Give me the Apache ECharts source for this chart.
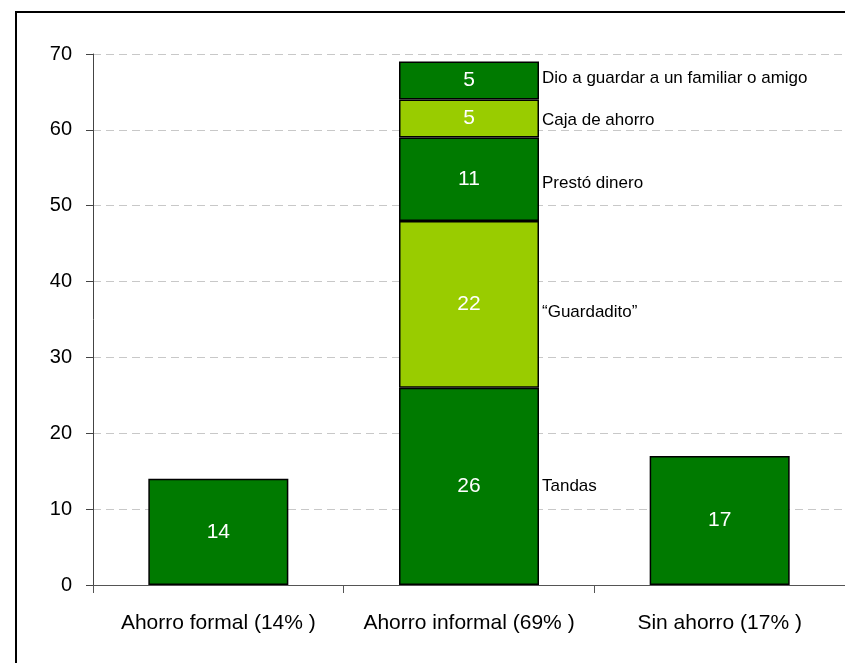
<!DOCTYPE html>
<html>
<head>
<meta charset="utf-8">
<script src="https://cdn.jsdelivr.net/npm/echarts@6/dist/echarts.min.js"></script>
<style>
  html, body { margin: 0; padding: 0; background: #fff; }
  #chart { width: 845px; height: 663px; }
</style>
</head>
<body>
<div id="chart"></div>
<script>
// Categories and tick values
const categories = ['Ahorro formal (14% )', 'Ahorro informal (69% )', 'Sin ahorro (17% )'];
const yTicks = { min: 0, max: 70, interval: 10 };

// Stacked segments, bottom to top
const segmentNames = ['Tandas', '\u201cGuardadito\u201d', 'Prestó dinero', 'Caja de ahorro', 'Dio a guardar a un familiar o amigo'];
const tandas      = [14, 26, 17];
const guardadito  = [null, 22, null];
const presto      = [null, 11, null];
const caja        = [null, 5, null];
const dioGuardar  = [null, 5, null];
const segmentData = [tandas, guardadito, presto, caja, dioGuardar];

const DARK = '#007A00';
const LIGHT = '#99CC00';
const segmentColors = [DARK, LIGHT, DARK, LIGHT, DARK];
// small vertical nudges for the segment names
const nameOffsets = [0, 8, 4, 2, -2];
const FONT = "'Liberation Sans', Arial, sans-serif";

const series = [];
// Visible bars with value labels inside
segmentData.forEach((data, i) => {
  series.push({
    name: segmentNames[i],
    type: 'bar',
    stack: 'main',
    barWidth: 140,
    barGap: '-100%',
    data: data,
    itemStyle: { color: segmentColors[i], borderColor: '#000', borderWidth: 1.5 },
    label: {
      show: true, position: 'inside', color: '#fff',
      fontFamily: FONT, fontSize: 21,
      formatter: p => (p.value == null ? '' : String(p.value))
    },
    silent: true
  });
});
// Transparent overlay stack carrying the segment names beside the middle bar
segmentData.forEach((data, i) => {
  series.push({
    name: segmentNames[i] + ' ',
    type: 'bar',
    stack: 'notes',
    barWidth: 140,
    barGap: '-100%',
    data: data.map((v, j) => (j === 1 ? v : null)),
    itemStyle: { color: 'rgba(0,0,0,0)', borderWidth: 0 },
    label: {
      show: true, position: 'right', distance: 3, color: '#000',
      fontFamily: FONT, fontSize: 17, offset: [0, nameOffsets[i]],
      formatter: () => segmentNames[i]
    },
    silent: true,
    z: 5
  });
});

const chart = echarts.init(document.getElementById('chart'), null, { renderer: 'canvas' });
chart.setOption({
  animation: false,
  backgroundColor: '#fff',
  grid: { left: 93, top: 54, width: 754, height: 531 },
  xAxis: {
    type: 'category',
    data: categories,
    axisLine: { lineStyle: { color: '#555', width: 1 } },
    axisTick: { show: true, length: 8, lineStyle: { color: '#555' } },
    axisLabel: { color: '#000', fontFamily: FONT, fontSize: 21, margin: 28, interval: 0 }
  },
  yAxis: {
    type: 'value',
    min: yTicks.min, max: yTicks.max, interval: yTicks.interval,
    axisLine: { show: true, lineStyle: { color: '#444', width: 1 } },
    axisTick: { show: true, length: 7, lineStyle: { color: '#444' } },
    axisLabel: { color: '#000', fontFamily: FONT, fontSize: 20, margin: 21 },
    splitLine: { show: true, lineStyle: { color: '#c8c8c8', type: [8, 5], width: 1 } }
  },
  graphic: [{
    type: 'rect',
    shape: { x: 16, y: 12, width: 900, height: 700 },
    style: { fill: 'none', stroke: '#000', lineWidth: 2 },
    silent: true,
    z: 100
  }],
  series: series
});
</script>
</body>
</html>
